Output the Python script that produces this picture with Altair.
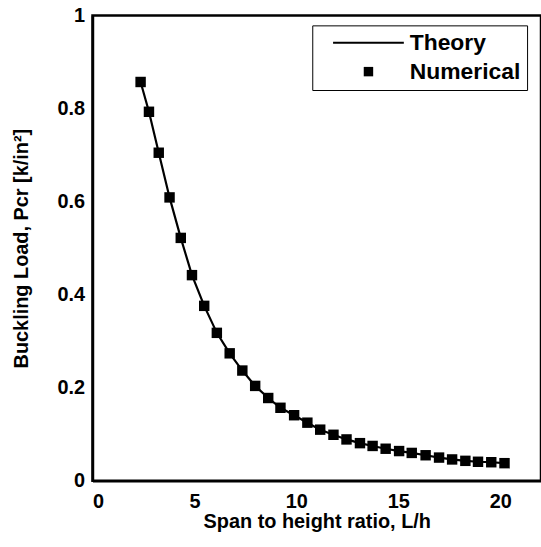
import altair as alt
import pandas as pd

# Numerical results (squares)
num_x = [2.36, 2.77, 3.25, 3.78, 4.33, 4.88, 5.48, 6.10, 6.73, 7.35,
         7.98, 8.62, 9.22, 9.89, 10.54, 11.17, 11.82, 12.46, 13.12, 13.74,
         14.38, 15.04, 15.66, 16.34, 17.00, 17.64, 18.29, 18.91, 19.56, 20.21]
num_y = [0.857, 0.793, 0.705, 0.609, 0.522, 0.442, 0.376, 0.318, 0.274, 0.237,
         0.204, 0.178, 0.157, 0.141, 0.125, 0.110, 0.099, 0.089, 0.081, 0.075,
         0.069, 0.064, 0.060, 0.055, 0.050, 0.046, 0.043, 0.041, 0.040, 0.038]

# Theory curve (passes through the numerical points)
theory_x = list(num_x)
theory_y = list(num_y)

series_names = ["Theory", "Numerical"]
x_ticks = [0, 5, 10, 15, 20]
y_ticks = [0, 0.2, 0.4, 0.6, 0.8, 1]

FONT = "Liberation Sans"

theory_df = pd.DataFrame({"x": theory_x, "y": theory_y, "series": "Theory"})
num_df = pd.DataFrame({"x": num_x, "y": num_y, "series": "Numerical"})

x_enc = alt.X("x:Q", scale=alt.Scale(domain=[0, 22], nice=False),
              axis=alt.Axis(values=x_ticks, format="d",
                            title="Span to height ratio, L/h",
                            labelPadding=11, titlePadding=0))
y_enc = alt.Y("y:Q", scale=alt.Scale(domain=[0, 1], nice=False),
              axis=alt.Axis(values=y_ticks, format="~g",
                            title="Buckling Load, Pcr [k/in²]",
                            labelPadding=8, titlePadding=26))

# legend symbol for the theory line: a thin filled bar (long horizontal line)
line_symbol = "M-7.5,-0.22H7.5V0.22H-7.5Z"

line = alt.Chart(theory_df).mark_line(color="black", strokeWidth=2.2).encode(
    x=x_enc, y=y_enc
)

points = alt.Chart(num_df).mark_point(
    filled=True, color="black", opacity=1, size=110
).encode(
    x=x_enc, y=y_enc,
    shape=alt.Shape(
        "series:N",
        scale=alt.Scale(domain=series_names, range=[line_symbol, "square"]),
        legend=alt.Legend(
            title=None, orient="none", legendX=221, legendY=10,
            padding=6, rowPadding=5,
            symbolSize=90, symbolOffset=39, labelOffset=30,
            symbolFillColor="black", symbolStrokeWidth=0,
            labelFont=FONT, labelFontSize=23, labelFontWeight="bold",
            labelColor="black", strokeColor="black", fillColor="white",
        ),
    ),
)

chart = alt.layer(line, points).properties(
    width=451, height=468,
    background="white",
    autosize=alt.AutoSizeParams(type="none"),
    padding={"left": 93, "top": 14, "right": 0, "bottom": 65},
).configure_view(
    stroke="black", strokeWidth=2.5
).configure_axis(
    domainColor="black", domainWidth=2.5, ticks=False, grid=False,
    labelFont=FONT, labelFontSize=20, labelFontWeight="bold", labelColor="black",
    titleFont=FONT, titleFontSize=20, titleFontWeight="bold", titleColor="black",
)

chart.save("out.html", embed_options={"renderer": "svg", "actions": False})
